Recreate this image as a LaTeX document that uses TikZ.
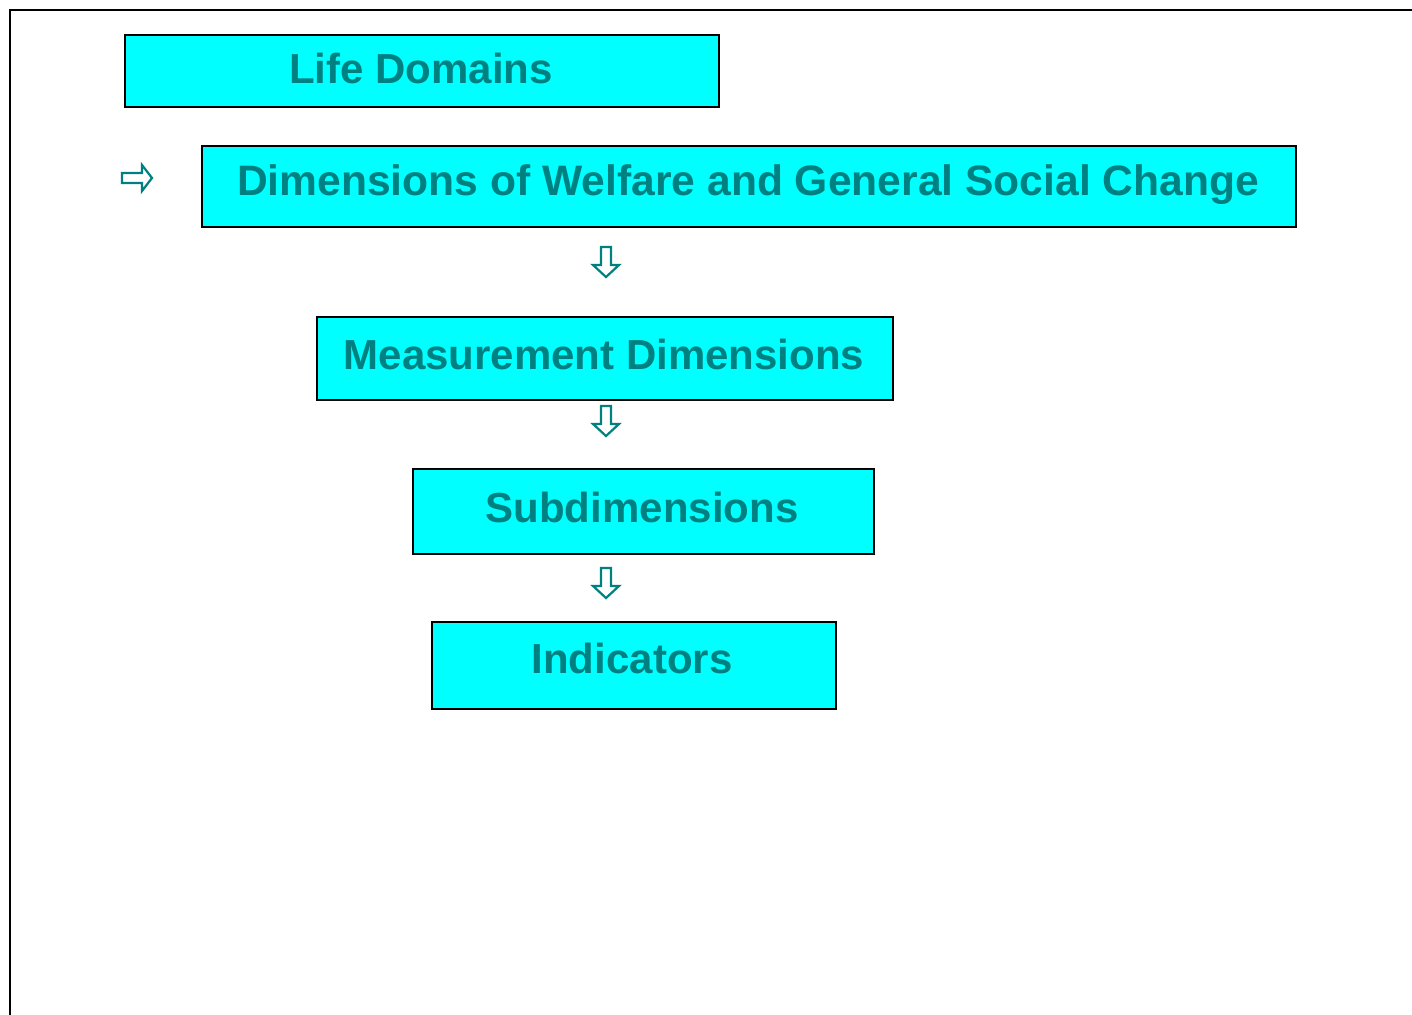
\documentclass[tikz,border=0pt]{standalone}
\usepackage{fontspec}
\setmainfont{Liberation Sans}
\begin{document}
\begin{tikzpicture}[x=0.5pt,y=-0.5pt,
  box/.style={draw=black,line width=1pt,fill=cyanbox,inner sep=0pt,anchor=north west},
  lbl/.style={text=tealtext,font=\fontsize{21}{25}\selectfont\bfseries,inner sep=0pt,anchor=base},
  glyph/.style={draw=tealtext,line width=1.1pt,fill=white,line join=miter}]
\definecolor{cyanbox}{RGB}{0,255,255}
\definecolor{tealtext}{RGB}{0,128,128}
\useasboundingbox (0,0) rectangle (1412,1015);
% frame
\draw[line width=1.1pt] (10,1016) -- (10,10) -- (1413,10);
% boxes
\node[box,minimum width=297pt,minimum height=36pt] (life) at (124,34) {};
\node[box,minimum width=547pt,minimum height=40.5pt] (dims) at (201,145) {};
\node[box,minimum width=288pt,minimum height=41.5pt] (meas) at (316,316) {};
\node[box,minimum width=230.5pt,minimum height=42.5pt] (sub) at (412,468) {};
\node[box,minimum width=202pt,minimum height=43.5pt] (ind) at (431,621) {};
% labels
\node[lbl] (tlife) at (421,84) {Life Domains};
\node[lbl,font=\fontsize{21.3}{25}\selectfont\bfseries] (tdims) at (748,196) {Dimensions of Welfare and General Social Change};
\node[lbl] (tmeas) at (604,370) {Measurement Dimensions};
\node[lbl] (tsub) at (642,523) {Subdimensions};
\node[lbl] (tind) at (632,673) {Indicators};
% down arrows
\foreach \name/\t in {a1/247,a2/406,a3/568}{
  \coordinate (\name) at (606,\t);
  \draw[glyph] (\name) ++(-5,0) -- ++(10,0) -- ++(0,18) -- ++(8,0) -- ++(-13,12) -- ++(-13,-12) -- ++(8,0) -- cycle;
}
% right arrow
\coordinate (r1) at (122,178);
\draw[glyph] (r1) ++(0,-5) -- ++(20,0) -- ++(0,-8) -- ++(10,13) -- ++(-10,13) -- ++(0,-8) -- ++(-20,0) -- cycle;
\end{tikzpicture}
\end{document}
